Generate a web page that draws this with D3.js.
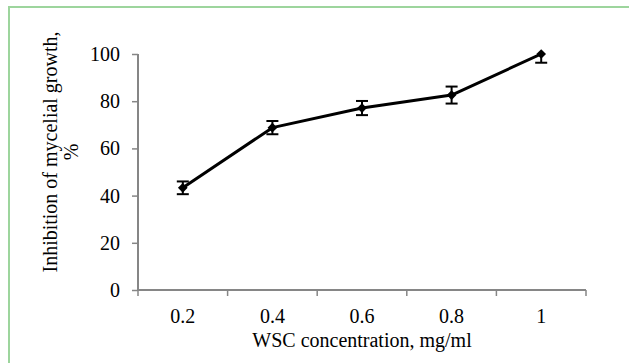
<!DOCTYPE html>
<html>
<head>
<meta charset="utf-8">
<script src="https://cdn.jsdelivr.net/npm/d3@7"></script>
<style>
  body { margin: 0; background: #fff; }
  text { font-family: "Liberation Serif", "Times New Roman", serif; fill: #000; }
</style>
</head>
<body>
<svg id="chart" width="629" height="363"></svg>
<script>
const concentrations = ["0.2", "0.4", "0.6", "0.8", "1"];
const inhibition = [43.3, 68.8, 77.1, 82.6, 100];
const errors = [2.7, 2.8, 3.0, 3.6, 3.7];
const yTicks = [0, 20, 40, 60, 80, 100];

const width = 629, height = 363;
const margin = { top: 54, right: 43, bottom: 73, left: 138 };
const fontSize = "20px";

const svg = d3.select("#chart");

// green frame (only top and left visible in the picture)
svg.append("path")
  .attr("d", "M9," + height + "V7H" + width)
  .attr("fill", "none")
  .attr("stroke", "#9dd59d")
  .attr("stroke-width", 2);

const x = d3.scaleBand()
  .domain(concentrations)
  .range([margin.left, width - margin.right]);

const y = d3.scaleLinear()
  .domain([0, 100])
  .range([height - margin.bottom, margin.top]);

const axisColor = "#868686";

// y axis
const yAxis = svg.append("g")
  .attr("transform", "translate(" + margin.left + ",0)")
  .call(d3.axisLeft(y).tickValues(yTicks).tickSize(6).tickPadding(12));
yAxis.select(".domain").attr("stroke", axisColor).attr("stroke-width", 2)
  .attr("d", "M0," + y(100) + "V" + y(0));
yAxis.selectAll(".tick line").attr("stroke", axisColor).attr("stroke-width", 1.5);
yAxis.selectAll(".tick text").style("font-size", fontSize)
  .style("font-family", "Liberation Serif, serif").attr("fill", "#000");

// x axis: ticks at band boundaries
const xAxis = svg.append("g")
  .attr("transform", "translate(0," + y(0) + ")");
xAxis.append("line")
  .attr("x1", margin.left).attr("x2", width - margin.right)
  .attr("stroke", axisColor).attr("stroke-width", 2);
const bounds = concentrations.map(c => x(c)).concat([x(concentrations[concentrations.length - 1]) + x.bandwidth()]);
xAxis.selectAll("line.tk")
  .data(bounds)
  .enter().append("line")
  .attr("class", "tk")
  .attr("x1", d => d).attr("x2", d => d)
  .attr("y1", 0).attr("y2", 6)
  .attr("stroke", axisColor).attr("stroke-width", 1.5);
xAxis.selectAll("text.lbl")
  .data(concentrations)
  .enter().append("text")
  .attr("class", "lbl")
  .attr("x", d => x(d) + x.bandwidth() / 2)
  .attr("y", 33)
  .attr("text-anchor", "middle")
  .style("font-size", fontSize)
  .text(d => d);

// axis titles
svg.append("text")
  .attr("x", (margin.left + width - margin.right) / 2)
  .attr("y", 347)
  .attr("text-anchor", "middle")
  .style("font-size", fontSize)
  .text("WSC concentration, mg/ml");

const yTitle = svg.append("text")
  .attr("transform", "translate(57,152) rotate(-90)")
  .attr("text-anchor", "middle")
  .style("font-size", fontSize);
yTitle.append("tspan").attr("x", 0).attr("dy", 0).text("Inhibition of mycelial growth,");
yTitle.append("tspan").attr("x", 0).attr("dy", 21).text("%");

const pts = concentrations.map((c, i) => ({ c: c, v: inhibition[i], e: errors[i] }));
const cx = d => x(d.c) + x.bandwidth() / 2;

svg.append("clipPath").attr("id", "plot")
  .append("rect")
  .attr("x", margin.left).attr("y", y(100))
  .attr("width", width - margin.left - margin.right)
  .attr("height", y(0) - y(100));

const plot = svg.append("g").attr("clip-path", "url(#plot)");

// line
plot.append("path")
  .datum(pts)
  .attr("fill", "none")
  .attr("stroke", "#000")
  .attr("stroke-width", 3)
  .attr("stroke-linejoin", "round")
  .attr("d", d3.line().x(cx).y(d => y(d.v)));

// error bars
const eb = plot.selectAll("g.err")
  .data(pts)
  .enter().append("g")
  .attr("class", "err")
  .attr("stroke", "#000")
  .attr("stroke-width", 2);
eb.append("line")
  .attr("x1", cx).attr("x2", cx)
  .attr("y1", d => y(d.v - d.e)).attr("y2", d => y(d.v + d.e));
eb.append("line")
  .attr("x1", d => cx(d) - 6).attr("x2", d => cx(d) + 6)
  .attr("y1", d => y(d.v - d.e)).attr("y2", d => y(d.v - d.e));
eb.append("line")
  .attr("x1", d => cx(d) - 6).attr("x2", d => cx(d) + 6)
  .attr("y1", d => y(d.v + d.e)).attr("y2", d => y(d.v + d.e));

// diamond markers
svg.selectAll("path.mk")
  .data(pts)
  .enter().append("path")
  .attr("class", "mk")
  .attr("transform", d => "translate(" + cx(d) + "," + y(d.v) + ")")
  .attr("d", d3.symbol().type(d3.symbolDiamond2).size(60))
  .attr("fill", "#000");
</script>
</body>
</html>
